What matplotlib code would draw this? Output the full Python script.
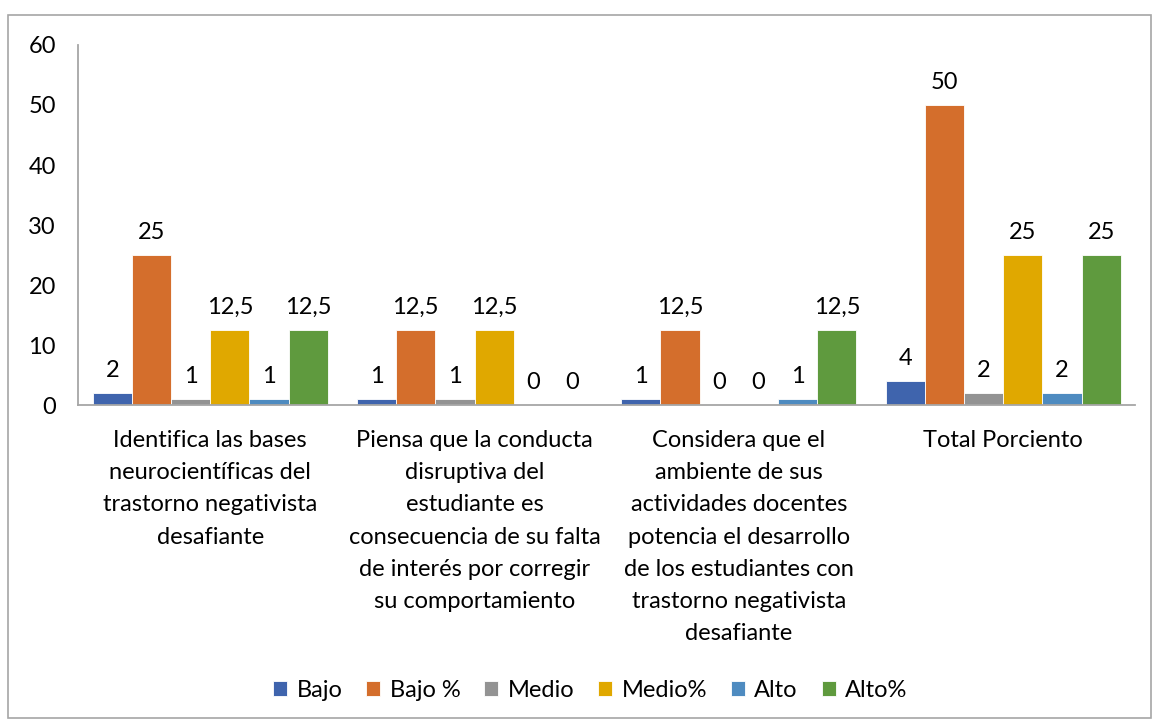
import matplotlib.pyplot as plt
import numpy as np
from matplotlib.patches import Rectangle

categorias = [
    "Identifica las bases\nneurocientíficas del\ntrastorno negativista\ndesafiante",
    "Piensa que la conducta\ndisruptiva del\nestudiante es\nconsecuencia de su falta\nde interés por corregir\nsu comportamiento",
    "Considera que el\nambiente de sus\nactividades docentes\npotencia el desarrollo\nde los estudiantes con\ntrastorno negativista\ndesafiante",
    "Total Porciento",
]
series = ["Bajo", "Bajo %", "Medio", "Medio%", "Alto", "Alto%"]
bajo = [2, 1, 1, 4]
bajo_pct = [25, 12.5, 12.5, 50]
medio = [1, 1, 0, 2]
medio_pct = [12.5, 12.5, 0, 25]
alto = [1, 0, 1, 2]
alto_pct = [12.5, 0, 12.5, 25]
colores = ["#3F64AD", "#D46E2C", "#939393", "#E0A800", "#4E8BC0", "#5F9A3E"]

plt.rcParams['font.family'] = ['Lato', 'DejaVu Sans']
fs = 17

fig = plt.figure(figsize=(11.53, 7.22), dpi=100)
ax = fig.add_axes([0.0677, 0.439, 0.917, 0.4987])

# marco gris alrededor del grafico
fig.patches.append(Rectangle((0.007, 0.005), 0.991, 0.974, transform=fig.transFigure,
                             fill=False, edgecolor="#A6A6A6", linewidth=1.2))

valores = [bajo, bajo_pct, medio, medio_pct, alto, alto_pct]
x = np.arange(len(categorias))
ancho = 0.89 / len(series)

for i, (nombre, vals, color) in enumerate(zip(series, valores, colores)):
    pos = x - 0.445 + ancho * (i + 0.5)
    ax.bar(pos, vals, width=ancho, color=color, label=nombre,
           edgecolor="white", linewidth=0.6)
    for px, v in zip(pos, vals):
        txt = ("%g" % v).replace(".", ",")
        ax.text(px, v + 2.0, txt, ha="center", va="bottom", fontsize=fs)

ax.set_xlim(-0.5, len(categorias) - 0.5)
ax.set_ylim(0, 60)
ax.set_yticks(range(0, 61, 10))
ax.set_xticks(x)
ax.set_xticklabels(categorias, fontsize=fs, linespacing=1.66)
ax.tick_params(axis="both", length=0, labelsize=fs)
ax.tick_params(axis="y", pad=16)
ax.tick_params(axis="x", pad=18)

for s in ["top", "right"]:
    ax.spines[s].set_visible(False)
for s in ["left", "bottom"]:
    ax.spines[s].set_color("#A6A6A6")
    ax.spines[s].set_linewidth(1.3)

fig.legend(loc="center", bbox_to_anchor=(0.512, 0.044), ncol=6, frameon=False,
           fontsize=fs, handlelength=0.6, handleheight=0.6, handletextpad=0.4,
           columnspacing=1.0)

plt.savefig("out.png", dpi=100)
